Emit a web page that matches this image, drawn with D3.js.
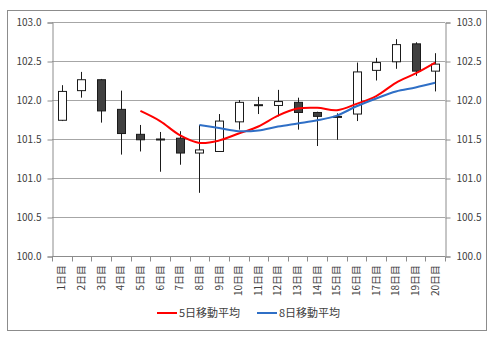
<!DOCTYPE html>
<html>
<head>
<meta charset="utf-8">
<script src="https://cdn.jsdelivr.net/npm/d3@7/dist/d3.min.js"></script>
<style>
  html, body { margin: 0; padding: 0; background: #fff; }
  svg { display: block; }
  text { font-family: "Noto Sans CJK JP", "Noto Sans", sans-serif; fill: #404040; }
</style>
</head>
<body>
<svg id="chart" width="497" height="337"></svg>
<script>
// Daily OHLC prices (20 trading days)
const days   = ["1日目","2日目","3日目","4日目","5日目","6日目","7日目","8日目","9日目","10日目",
                "11日目","12日目","13日目","14日目","15日目","16日目","17日目","18日目","19日目","20日目"];
const opens  = [101.74, 102.12, 102.26, 101.88, 101.56, 101.50, 101.51, 101.32, 101.34, 101.72,
                101.93, 101.93, 101.97, 101.84, 101.79, 101.82, 102.38, 102.49, 102.72, 102.37];
const highs  = [102.19, 102.36, 102.27, 102.12, 101.68, 101.59, 101.60, 101.68, 101.82, 102.00,
                102.04, 102.13, 102.03, 101.85, 101.83, 102.48, 102.54, 102.78, 102.74, 102.60];
const lows   = [101.73, 102.03, 101.71, 101.30, 101.34, 101.08, 101.17, 100.81, 101.34, 101.62,
                101.82, 101.79, 101.62, 101.41, 101.49, 101.73, 102.25, 102.40, 102.31, 102.11];
const closes = [102.11, 102.26, 101.86, 101.57, 101.49, 101.49, 101.32, 101.36, 101.73, 101.97,
                101.94, 101.98, 101.84, 101.79, 101.78, 102.36, 102.48, 102.71, 102.37, 102.46];

// Moving averages (null where the window is not yet full)
const ma5 = [null, null, null, null, 101.86, 101.73, 101.55, 101.45, 101.48, 101.57,
             101.66, 101.80, 101.89, 101.90, 101.87, 101.95, 102.05, 102.22, 102.34, 102.48];
const ma8 = [null, null, null, null, null, null, null, 101.68, 101.64, 101.60,
             101.61, 101.66, 101.70, 101.74, 101.80, 101.92, 102.02, 102.11, 102.16, 102.22];

const yTicks = [100.0, 100.5, 101.0, 101.5, 102.0, 102.5, 103.0];
const seriesNames = ["5日移動平均", "8日移動平均"];
const seriesColors = ["#ff0000", "#2f6fc6"];

const svg = d3.select("#chart");

// outer frame
svg.append("rect")
  .attr("x", 7.5).attr("y", 10.5).attr("width", 479).attr("height", 320)
  .attr("fill", "#fff").attr("stroke", "#8c8c8c").attr("stroke-width", 1);

const plot = { left: 52, right: 445, top: 22, bottom: 256 };

const x = d3.scaleBand().domain(days).range([plot.left, plot.right]).padding(0);
const y = d3.scaleLinear().domain([100, 103]).range([plot.bottom, plot.top]);

// gridlines
svg.append("g").selectAll("line").data(yTicks).join("line")
  .attr("x1", plot.left).attr("x2", plot.right)
  .attr("y1", d => Math.round(y(d)) + 0.5).attr("y2", d => Math.round(y(d)) + 0.5)
  .attr("stroke", "#a6a6a6").attr("stroke-width", 1);

// left axis
const leftAxis = svg.append("g")
  .attr("transform", `translate(${plot.left + 0.5},0.5)`)
  .call(d3.axisLeft(y).tickValues(yTicks).tickFormat(d3.format(".1f")).tickSize(5).tickPadding(6));
// right axis
const rightAxis = svg.append("g")
  .attr("transform", `translate(${plot.right + 0.5},0.5)`)
  .call(d3.axisRight(y).tickValues(yTicks).tickFormat(d3.format(".1f")).tickSize(5).tickPadding(6));
[leftAxis, rightAxis].forEach(g => {
  g.select(".domain").attr("stroke", "#8c8c8c");
  g.selectAll(".tick line").attr("stroke", "#8c8c8c");
  g.selectAll(".tick text").attr("font-size", 10).attr("fill", "#404040")
    .attr("font-family", "'Noto Sans CJK JP', sans-serif");
});

// bottom axis: ticks on category boundaries
const bottom = svg.append("g").attr("transform", `translate(0,${plot.bottom + 0.5})`);
bottom.append("line")
  .attr("x1", plot.left).attr("x2", plot.right)
  .attr("stroke", "#8c8c8c");
const boundaries = days.map(d => x(d)).concat([x(days[days.length - 1]) + x.bandwidth()]);
bottom.selectAll("line.tk").data(boundaries).join("line").attr("class", "tk")
  .attr("x1", d => Math.round(d) + 0.5).attr("x2", d => Math.round(d) + 0.5)
  .attr("y1", 0).attr("y2", 5).attr("stroke", "#8c8c8c");
bottom.selectAll("text").data(days).join("text")
  .attr("transform", d => `translate(${x(d) + x.bandwidth() / 2 + 3.5},8.5) rotate(-90)`)
  .attr("text-anchor", "end")
  .attr("font-size", 10)
  .text(d => d);

// candlesticks
const bodyW = 8;
const candles = svg.append("g");
days.forEach((d, i) => {
  const cx = Math.round(x(d) + x.bandwidth() / 2) + 0.5;
  const up = closes[i] >= opens[i];
  candles.append("line")
    .attr("x1", cx).attr("x2", cx)
    .attr("y1", y(highs[i])).attr("y2", y(lows[i]))
    .attr("stroke", "#1a1a1a").attr("stroke-width", 1);
  const top = y(Math.max(opens[i], closes[i]));
  const bot = y(Math.min(opens[i], closes[i]));
  candles.append("rect")
    .attr("x", cx - bodyW / 2).attr("y", top)
    .attr("width", bodyW).attr("height", Math.max(bot - top, 1))
    .attr("fill", up ? "#ffffff" : "#404040")
    .attr("stroke", "#1a1a1a").attr("stroke-width", 1);
});

// moving average lines (smoothed)
const line = d3.line()
  .defined(v => v != null)
  .x((v, i) => x(days[i]) + x.bandwidth() / 2)
  .y(v => y(v))
  .curve(d3.curveCatmullRom.alpha(0.5));
[ma5, ma8].forEach((s, k) => {
  svg.append("path")
    .datum(s)
    .attr("d", line)
    .attr("fill", "none")
    .attr("stroke", seriesColors[k])
    .attr("stroke-width", 2)
    .attr("stroke-linejoin", "round");
});

// legend
const legend = svg.append("g").attr("transform", "translate(0,313)");
const legendX = [157, 257];
seriesNames.forEach((name, k) => {
  legend.append("line")
    .attr("x1", legendX[k]).attr("x2", legendX[k] + 20)
    .attr("y1", 0).attr("y2", 0)
    .attr("stroke", seriesColors[k]).attr("stroke-width", 2);
  legend.append("text")
    .attr("x", legendX[k] + 22).attr("y", 0)
    .attr("dy", "0.35em")
    .attr("font-size", 11)
    .text(name);
});
</script>
</body>
</html>
